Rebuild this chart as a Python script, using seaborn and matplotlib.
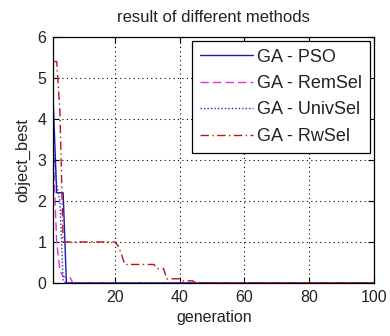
import matplotlib
matplotlib.use("Agg")
import matplotlib.pyplot as plt
import seaborn as sns
import pandas as pd

# data (breakpoints of each curve)
pso_x = [1, 2, 4, 5, 100]
pso_y = [4.3, 2.2, 2.2, 0.0, 0.0]
rem_x = [1, 2, 3, 4, 6, 7, 100]
rem_y = [3.0, 1.0, 0.3, 0.15, 0.15, 0.0, 0.0]
univ_x = [1, 2, 3, 4, 5, 100]
univ_y = [3.3, 2.4, 2.0, 0.05, 0.0, 0.0]
rw_x = [1, 2, 3, 4, 20, 21, 22, 23, 32, 33, 35, 36, 40, 41, 44, 45, 100]
rw_y = [5.4, 5.4, 4.2, 1.0, 1.0, 0.9, 0.7, 0.45, 0.45, 0.35, 0.35, 0.1, 0.1, 0.05, 0.05, 0.0, 0.0]

labels = ["GA - PSO", "GA - RemSel", "GA - UnivSel", "GA - RwSel"]
x_ticks = [20, 40, 60, 80, 100]
y_ticks = [0, 1, 2, 3, 4, 5, 6]

sns.set_theme(style="white")
plt.rcParams["font.family"] = ["Liberation Sans", "DejaVu Sans"]

frames = []
for lab, xs, ys in zip(labels, [pso_x, rem_x, univ_x, rw_x], [pso_y, rem_y, univ_y, rw_y]):
    frames.append(pd.DataFrame({"generation": xs, "object_best": ys, "method": lab}))
df = pd.concat(frames, ignore_index=True)

fig = plt.figure(figsize=(3.9, 3.36), dpi=100)
ax = fig.add_axes([0.137, 0.158, 0.822, 0.732])

styles = {
    "GA - PSO": dict(color="#1a1ab4", ls="-"),
    "GA - RemSel": dict(color="#e030e0", ls=(0, (6, 3))),
    "GA - UnivSel": dict(color="#2828c0", ls=(0, (1, 1.5))),
    "GA - RwSel": dict(color="#b81414", ls=(0, (6, 2.5, 1, 2.5))),
}
for lab in labels:
    sub = df[df["method"] == lab]
    sns.lineplot(data=sub, x="generation", y="object_best", ax=ax, label=lab,
                 color=styles[lab]["color"], linestyle=styles[lab]["ls"], lw=1.0,
                 estimator=None, sort=False)

ax.set_xlim(1, 100)
ax.set_ylim(0, 6)
ax.set_xticks(x_ticks)
ax.set_yticks(y_ticks)
ax.set_xticklabels([str(t) for t in x_ticks], fontsize=11.5)
ax.set_yticklabels([str(t) for t in y_ticks], fontsize=11.5)
ax.tick_params(direction="in", top=True, right=True, length=4, width=0.8,
               bottom=True, left=True, color="black", pad=5, labelcolor="#222222")
ax.grid(True, color="black", linestyle=(0, (1, 3)), linewidth=0.8)
for s in ax.spines.values():
    s.set_color("black")
    s.set_linewidth(0.9)
ax.set_xlabel("generation", fontsize=11.5, labelpad=4, color="#222222")
ax.set_ylabel("object_best", fontsize=11.8, labelpad=5, color="#222222")
ax.set_title("result of different methods", fontsize=12, pad=11, color="#222222")

leg = ax.legend(loc="upper right", prop={"size": 13}, frameon=True, fancybox=False,
                edgecolor="black", framealpha=1, handlelength=2.9,
                borderaxespad=0.2, labelspacing=0.52, handletextpad=0.25,
                borderpad=0.45)
leg.get_frame().set_linewidth(0.9)
for t in leg.get_texts():
    t.set_color("#222222")

fig.savefig("out.png", dpi=100)
